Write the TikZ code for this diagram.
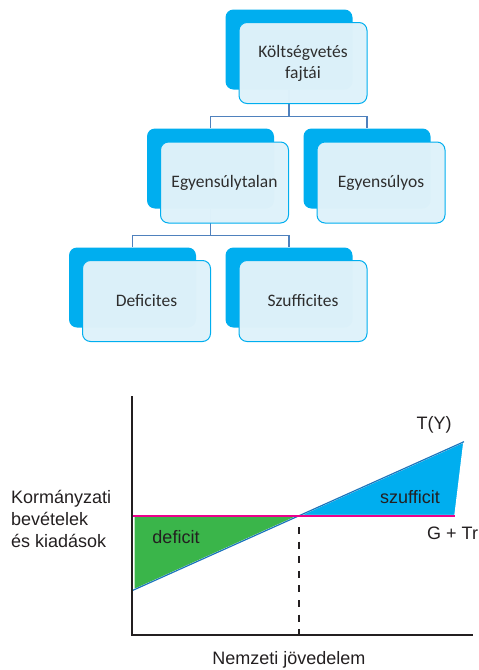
\documentclass[tikz,border=0pt]{standalone}
\usepackage{fontspec}
\setmainfont{Liberation Sans}
\newfontfamily\boxfont{Carlito}
\definecolor{boxblue}{HTML}{00AEEF}
\definecolor{boxlight}{HTML}{DFF2FA}
\definecolor{linkblue}{HTML}{4F81BD}
\definecolor{txtgray}{HTML}{2E2E2E}
\definecolor{gtr}{HTML}{EC008C}
\definecolor{tyblue}{HTML}{1B75BC}
\definecolor{defgreen}{HTML}{3AB54A}
\definecolor{inkblack}{HTML}{231F20}
\tikzset{
  backbox/.style={rectangle, rounded corners=8pt, fill=boxblue, draw=none,
    minimum width=127pt, minimum height=80pt, inner sep=0pt},
  frontbox/.style={rectangle, rounded corners=8pt, fill=boxlight, fill opacity=0.985,
    text opacity=1, draw=boxblue, line width=1pt, minimum width=128pt,
    minimum height=81pt, inner sep=0pt, align=center, text=txtgray,
    font=\boxfont\fontsize{17.5}{21}\selectfont},
  link/.style={draw=linkblue, line width=1.3pt},
  axis/.style={draw=inkblack, line width=1.6pt},
  lbl/.style={text=inkblack, font=\fontsize{18}{22}\selectfont, inner sep=0pt}
}
\begin{document}
\begin{tikzpicture}[x=1pt, y=-1pt]
\useasboundingbox (0,0) rectangle (479,670);

% --- classification tree ---
\node[backbox] (d1) at (289,49.5) {};
\node[backbox] (d2) at (210.5,168.5) {};
\node[backbox] (d3) at (367,168.5) {};
\node[backbox] (d4) at (132.5,287.5) {};
\node[backbox] (d5) at (289,287.5) {};

\draw[link] (d1.south) -- ++(0,26.5) -| (d2.north);
\draw[link] (d1.south) -- ++(0,26.5) -| (d3.north);
\draw[link] (d2.south) -- ++(0,26.5) -| (d4.north);
\draw[link] (d2.south) -- ++(0,26.5) -| (d5.north);

\node[frontbox] (f1) at (303,63) {Költségvetés\\fajtái};
\node[frontbox] (f2) at (224.5,182.5) {Egyensúlytalan};
\node[frontbox] (f3) at (381,182.5) {Egyensúlyos};
\node[frontbox] (f4) at (146.5,301) {Deficites};
\node[frontbox] (f5) at (303,301) {Szufficites};

% --- budget balance chart ---
\coordinate (o) at (132,635);
\coordinate (ytop) at (132,396);
\coordinate (xend) at (473,635);
\coordinate (g0) at (132,515.7);
\coordinate (g1) at (455,515.7);
\coordinate (t0) at (132,590.7);
\coordinate (t1) at (464,441.7);
\coordinate (e) at (299,515.7);
\coordinate (ed) at (299,527);
\coordinate (eb) at (299,635);

\filldraw[fill=defgreen, draw=white, line width=1.5pt]
  (133.8,515.7) -- (133.8,589.9) -- (e) -- cycle;
\filldraw[fill=boxblue, draw=white, line width=1.5pt]
  (e) -- (t1) -- (g1) -- cycle;

\draw[draw=tyblue, line width=1.2pt] (t0) -- (t1);
\draw[draw=gtr, line width=1.8pt] (g0) -- (g1);
\draw[draw=inkblack, line width=1.6pt, dash pattern=on 7pt off 7.6pt] (ed) -- (eb);
\draw[axis] (ytop) -- (o) -- (xend);

\node[lbl] (ty) at (434,425) {T(Y)};
\node[lbl] (szf) at (410,497) {szufficit};
\node[lbl, anchor=west] (gtrl) at (427,533) {G + Tr};
\node[lbl] (dft) at (176,537) {deficit};
\node[lbl, anchor=west, align=left] (ylab) at (11,519)
  {Kormányzati\\bevételek\\és kiadások};
\node[lbl] (xlab) at (289,660) {Nemzeti jövedelem};
\end{tikzpicture}
\end{document}
